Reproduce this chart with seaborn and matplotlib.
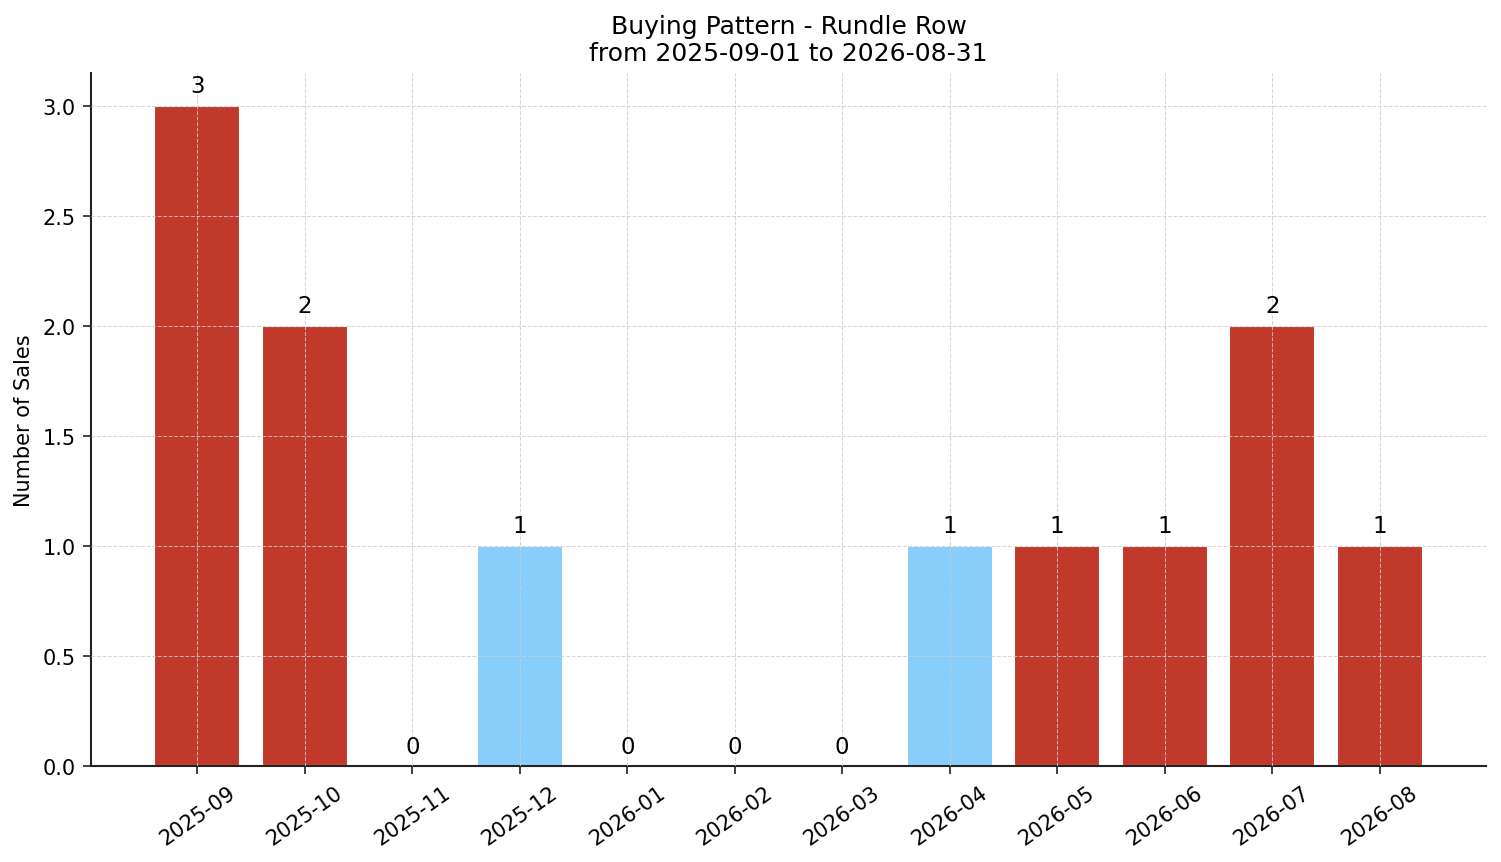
import matplotlib
matplotlib.use("Agg")
import matplotlib.pyplot as plt
import seaborn as sns
import pandas as pd

months = ["2025-09", "2025-10", "2025-11", "2025-12", "2026-01", "2026-02",
          "2026-03", "2026-04", "2026-05", "2026-06", "2026-07", "2026-08"]
sales = [3, 2, 0, 1, 0, 0, 0, 1, 1, 1, 2, 1]
groups = ["red", "red", "red", "blue", "red", "red",
          "red", "blue", "red", "red", "red", "red"]
palette = {"red": "#c0392b", "blue": "#87cefa"}

df = pd.DataFrame({"month": months, "sales": sales, "group": groups})

sns.set_style("white")
plt.rcParams['font.family'] = ['DejaVu Sans']
plt.rcParams['text.color'] = 'black'
plt.rcParams['axes.labelcolor'] = 'black'
plt.rcParams['xtick.color'] = 'black'
plt.rcParams['ytick.color'] = 'black'

fig, ax = plt.subplots(figsize=(10.007, 5.753), dpi=150)
fig.subplots_adjust(left=0.0606, right=0.990, top=0.9143, bottom=0.1107)

sns.barplot(data=df, x="month", y="sales", hue="group", palette=palette,
            dodge=False, legend=False, width=0.8, saturation=1, ax=ax)

ax.set_xlim(-0.99, 11.99)
ax.set_ylim(0, 3.15)
ax.grid(True, linestyle="--", color="#cccccc", linewidth=0.5, alpha=0.8)
ax.set_axisbelow(False)
for s in ["top", "right"]:
    ax.spines[s].set_visible(False)
for s in ["left", "bottom"]:
    ax.spines[s].set_color("#222222")
    ax.spines[s].set_linewidth(1.0)

for i, v in enumerate(sales):
    ax.text(i, v + 0.04, str(v), ha="center", va="bottom", fontsize=11, color="black")

ax.set_title("Buying Pattern - Rundle Row\nfrom 2025-09-01 to 2026-08-31", fontsize=12, color="black")
ax.set_xlabel("")
ax.set_ylabel("Number of Sales", fontsize=10)
ax.tick_params(axis="both", labelsize=10, length=4, color="#222222", left=True, bottom=True)
plt.setp(ax.get_xticklabels(), rotation=35, ha="center")

fig.savefig("out.png", dpi=150)
